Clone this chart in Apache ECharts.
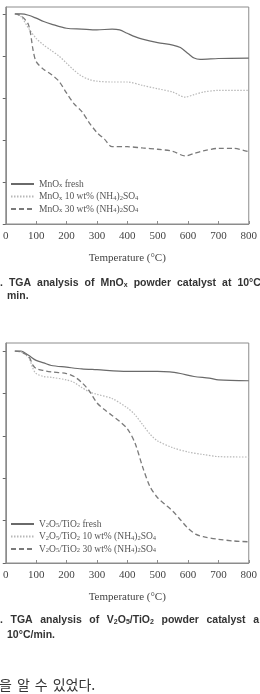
<!DOCTYPE html>
<html>
<head>
<meta charset="utf-8">
<script src="https://cdn.jsdelivr.net/npm/echarts@6/dist/echarts.min.js"></script>
<style>
    html, body { margin: 0; padding: 0; background: #fff; }
    #chart { width: 260px; height: 694px; }
</style>
</head>
<body>
<div id="chart"></div>
<script>
// x축 눈금 (°C)
const tempTicks = [0, 100, 200, 300, 400, 500, 600, 700, 800];
// y축 눈금 (라벨은 원본에서 잘려 보이지 않음)
const weightTicks = [75, 80, 85, 90, 95, 100];

// MnOx TGA 곡선 [온도, 무게%]
const mnFresh = [[30, 100], [50, 100], [75, 99.85], [100, 99.5], [125, 99.1], [150, 98.8], [200, 98.3],
    [250, 98.2], [300, 98.1], [350, 98.2], [375, 98.1], [400, 97.7], [425, 97.3], [450, 97.0],
    [500, 96.6], [550, 96.3], [575, 96.0], [600, 95.3], [620, 94.75], [640, 94.6], [700, 94.7], [800, 94.75]];
const mn10 = [[30, 100], [50, 99.7], [75, 98.3], [100, 97.1], [125, 96.3], [150, 95.65], [175, 95.0],
    [200, 94.15], [225, 93.3], [250, 92.6], [275, 92.2], [300, 92.0], [350, 91.9], [400, 91.9],
    [450, 91.5], [500, 91.1], [550, 90.7], [590, 90.1], [620, 90.4], [650, 90.7], [700, 90.9], [800, 90.9]];
const mn30 = [[30, 100], [50, 99.8], [75, 98.7], [90, 95.7], [100, 94.35], [125, 93.4], [150, 92.8],
    [175, 92.0], [200, 90.6], [225, 89.3], [250, 88.4], [275, 87.05], [300, 85.9], [325, 85.1],
    [350, 84.2], [400, 84.2], [450, 84.05], [500, 83.9], [550, 83.65], [590, 83.1], [620, 83.4],
    [650, 83.7], [700, 84.0], [750, 84.0], [800, 83.6]];

// V2O5/TiO2 TGA 곡선
const vFresh = [[30, 100], [50, 100], [75, 99.5], [100, 98.9], [125, 98.6], [150, 98.3], [200, 98.1],
    [250, 97.9], [300, 97.8], [400, 97.6], [500, 97.6], [540, 97.55], [575, 97.35], [620, 97.0],
    [670, 96.8], [700, 96.6], [800, 96.5]];
const v10 = [[30, 100], [50, 99.9], [75, 99.25], [90, 97.9], [100, 97.35], [125, 97.0], [150, 96.9],
    [200, 96.6], [225, 96.3], [250, 95.7], [275, 95.2], [300, 94.9], [350, 94.4], [400, 93.3],
    [425, 92.5], [450, 91.35], [475, 90.2], [500, 89.4], [550, 88.6], [600, 88.1], [650, 87.8],
    [700, 87.55], [800, 87.5]];
const v30 = [[30, 100], [50, 99.9], [75, 99.4], [90, 98.3], [100, 97.95], [125, 97.7], [150, 97.55],
    [200, 97.35], [225, 97.0], [250, 96.3], [275, 95.3], [300, 93.9], [325, 93.1], [350, 92.4],
    [375, 91.7], [400, 90.85], [425, 89.2], [450, 86.4], [475, 84.0], [500, 82.7], [525, 81.9],
    [550, 81.1], [575, 80.1], [600, 79.1], [625, 78.4], [650, 78.1], [700, 77.8], [750, 77.6], [800, 77.5]];

// 범례 라벨 (rich text 아래첨자)
const legendLabels = {
    'MnOx fresh': 'MnO{s|x} fresh',
    'MnOx 10': 'MnO{s|x} 10 wt% (NH{s|4}){s|2}SO{s|4}',
    'MnOx 30': 'MnO{s|x} 30 wt% (NH{s|4}){s|2}SO{s|4}',
    'V fresh': 'V{s|2}O{s|5}/TiO{s|2} fresh',
    'V 10': 'V{s|2}O{s|5}/TiO{s|2} 10 wt% (NH{s|4}){s|2}SO{s|4}',
    'V 30': 'V{s|2}O{s|5}/TiO{s|2} 30 wt% (NH{s|4}){s|2}SO{s|4}'
};

const serif = '"Liberation Serif", "Times New Roman", serif';
const sans = '"Liberation Sans", Arial, sans-serif';
const axisGray = '#8c8c8c';

const subRich = {
    s: { fontSize: 6.5, fontFamily: serif, color: '#555', lineHeight: 6, verticalAlign: 'bottom' }
};

// 캡션용 rich: 아래첨자 + 양쪽맞춤 간격
function capRich(gap) {
    return {
        s: { fontSize: 7, fontFamily: sans, fontWeight: 'bold', color: '#333', lineHeight: 6, verticalAlign: 'bottom' },
        g: { width: gap, fontSize: 10.5 }
    };
}

function makeX(gridIndex) {
    return {
        type: 'value', gridIndex: gridIndex, min: 0, max: 800, interval: 100,
        name: 'Temperature (°C)', nameLocation: 'middle', nameGap: 29,
        nameTextStyle: { fontFamily: serif, fontSize: 11, color: '#444' },
        axisLine: { lineStyle: { color: axisGray } },
        axisTick: { inside: true, length: 3, lineStyle: { color: axisGray } },
        axisLabel: { fontFamily: serif, fontSize: 11, color: '#444', margin: 7,
            customValues: tempTicks },
        splitLine: { show: false }
    };
}

function makeY(gridIndex, max) {
    return {
        type: 'value', gridIndex: gridIndex, min: 75, max: max,
        axisLine: { show: true, lineStyle: { color: axisGray } },
        axisTick: { show: true, length: 3, lineStyle: { color: '#666' }, customValues: weightTicks },
        axisLabel: { show: false },
        splitLine: { show: false }
    };
}

function makeLine(name, data, idx, style) {
    return {
        name: name, type: 'line', data: data, xAxisIndex: idx, yAxisIndex: idx,
        smooth: 0.3, symbol: 'none', showSymbol: false, silent: true,
        itemStyle: { color: style.color },
        lineStyle: style
    };
}

const solid = { color: '#6a6a6a', width: 1.2, type: 'solid' };
const dotted = { color: '#b8b8b8', width: 1.2, type: [1.5, 1.5] };
const dashed = { color: '#7a7a7a', width: 1.3, type: [5, 3] };

function makeLegend(names, top) {
    return {
        data: names, orient: 'vertical', left: 10, top: top, padding: 0,
        itemWidth: 23, itemHeight: 12, itemGap: 2.5,
        selectedMode: false,
        itemStyle: { opacity: 0 },
        formatter: function (n) { return legendLabels[n]; },
        textStyle: { fontFamily: serif, fontSize: 9.5, color: '#555', rich: subRich }
    };
}

const option = {
    animation: false,
    backgroundColor: '#fff',
    grid: [
        { left: 5, right: 6, top: 7, height: 217, show: true, borderColor: axisGray, borderWidth: 1 },
        { left: 5, right: 6, top: 343, height: 220, show: true, borderColor: axisGray, borderWidth: 1 }
    ],
    xAxis: [makeX(0), makeX(1)],
    yAxis: [makeY(0, 100.83), makeY(1, 100.95)],
    legend: [
        makeLegend(['MnOx fresh', 'MnOx 10', 'MnOx 30'], 179),
        makeLegend(['V fresh', 'V 10', 'V 30'], 519)
    ],
    series: [
        makeLine('MnOx fresh', mnFresh, 0, solid),
        makeLine('MnOx 10', mn10, 0, dotted),
        makeLine('MnOx 30', mn30, 0, dashed),
        makeLine('V fresh', vFresh, 1, solid),
        makeLine('V 10', v10, 1, dotted),
        makeLine('V 30', v30, 1, dashed)
    ],
    graphic: [
        { type: 'text', left: 0, top: 278, style: {
            text: '.{g| }TGA{g| }analysis{g| }of{g| }MnO{s|x}{g| }powder{g| }catalyst{g| }at{g| }10°C',
            font: 'bold 10.5px ' + sans, fill: '#333', rich: capRich(6) } },
        { type: 'text', left: 7, top: 291, style: { text: 'min.', font: 'bold 10.5px ' + sans, fill: '#333' } },
        { type: 'text', left: 0, top: 615, style: {
            text: '.{g| }TGA{g| }analysis{g| }of{g| }V{s|2}O{s|5}/TiO{s|2}{g| }powder{g| }catalyst{g| }a',
            font: 'bold 10.5px ' + sans, fill: '#333', rich: capRich(7.6) } },
        { type: 'text', left: 7, top: 630, style: { text: '10°C/min.', font: 'bold 10.5px ' + sans, fill: '#333' } },
        { type: 'text', left: -1, top: 678, style: {
            text: '을{g| }알{g| }수{g| }있었다.',
            font: '14px "Noto Sans CJK KR", sans-serif', fill: '#333',
            rich: { g: { width: 5, fontSize: 14 } } } }
    ]
};

const myChart = echarts.init(document.getElementById('chart'));
myChart.setOption(option);
</script>
</body>
</html>
